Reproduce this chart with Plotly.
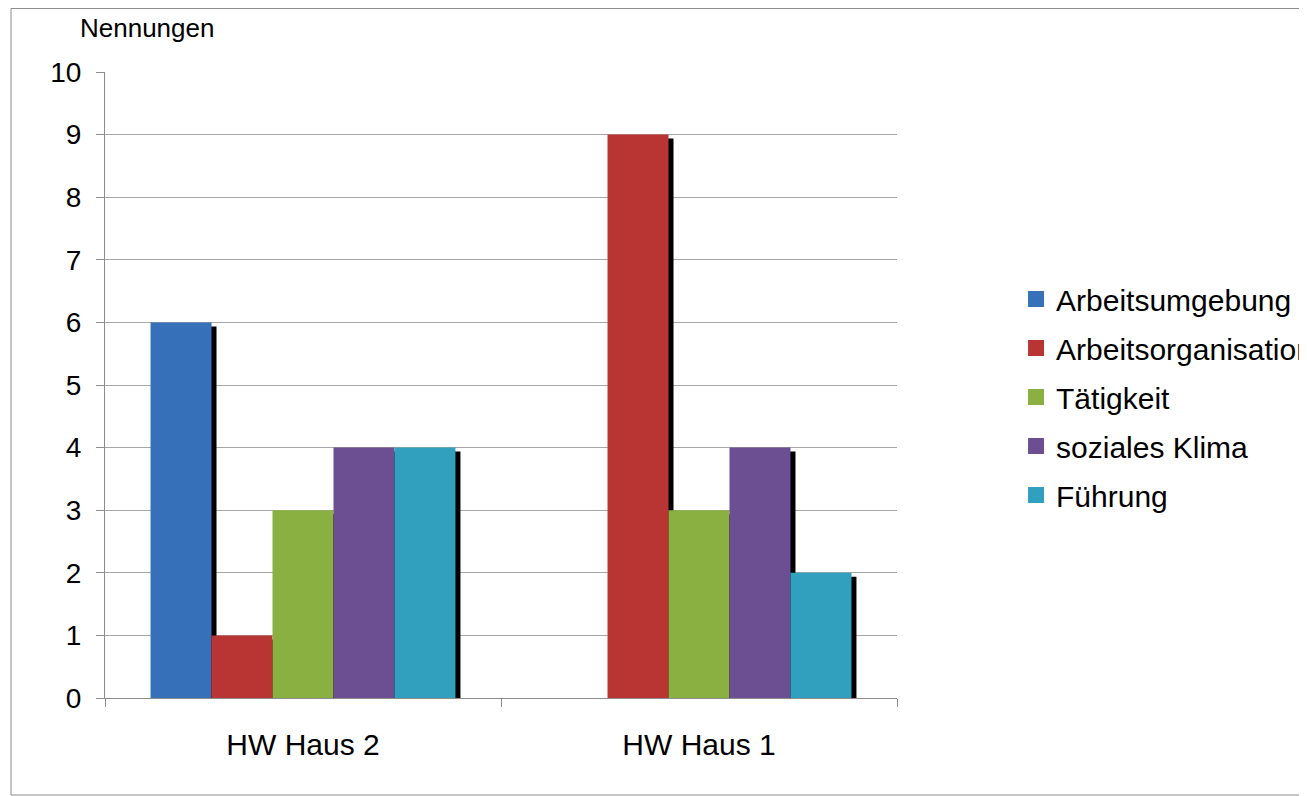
import plotly.graph_objects as go

categories = ["HW Haus 2", "HW Haus 1"]
series_names = ["Arbeitsumgebung", "Arbeitsorganisation", "Tätigkeit", "soziales Klima", "Führung"]
arbeitsumgebung = [6, 0]
arbeitsorganisation = [1, 9]
taetigkeit = [3, 3]
soziales_klima = [4, 4]
fuehrung = [4, 2]
y_ticks = list(range(0, 11))

series_values = [arbeitsumgebung, arbeitsorganisation, taetigkeit, soziales_klima, fuehrung]
colors = ["#3670B8", "#B83533", "#8BB042", "#6C4E93", "#31A0BF"]

FONT = "Liberation Sans, Arial, sans-serif"
# page body has an 8px margin; figure is sized/positioned to compensate
W, H = 1299, 788
L, R, T, B = 97, 410, 64, 98
plot_w = W - L - R
plot_h = H - T - B

bar_w = 0.154
n = len(series_names)
start = -bar_w * n / 2
dx = 5 / (plot_w / len(categories))   # shadow offset in category units
dy = 4 / (plot_h / 10)                # shadow offset in value units

fig = go.Figure()

# shadows
for i, vals in enumerate(series_values):
    fig.add_trace(go.Bar(
        x=categories, y=vals, base=[-dy] * len(vals),
        width=bar_w, offset=start + i * bar_w + dx,
        marker=dict(color="black", line=dict(width=0)),
        showlegend=False, hoverinfo="skip",
    ))

# main bars
for i, (name, vals) in enumerate(zip(series_names, series_values)):
    fig.add_trace(go.Bar(
        x=categories, y=vals, name=name,
        width=bar_w, offset=start + i * bar_w,
        marker=dict(color=colors[i], line=dict(width=0)),
        showlegend=False,
    ))

# legend entries
for i, name in enumerate(series_names):
    fig.add_trace(go.Scatter(
        x=[None], y=[None], mode="markers", name=name, legendgroup=name,
        marker=dict(symbol="square", size=16, color=colors[i]),
    ))

fig.update_layout(
    width=W, height=H,
    margin=dict(l=L, r=R, t=T, b=B, autoexpand=False),
    barmode="overlay",
    plot_bgcolor="white", paper_bgcolor="white",
    font=dict(family=FONT, color="black"),
    legend=dict(
        x=1.1503, xanchor="left", y=0.4808, yanchor="middle",
        font=dict(size=30, family=FONT), tracegroupgap=7,
        bgcolor="rgba(0,0,0,0)",
    ),
    xaxis=dict(
        type="category", range=[-0.5, 1.5],
        showline=True, linecolor="#8c8c8c", linewidth=1,
        ticks="outside", tickson="boundaries", ticklen=8, tickcolor="#8c8c8c",
        tickfont=dict(size=30, family=FONT), ticklabelstandoff=20,
        showgrid=False, zeroline=False,
    ),
    yaxis=dict(
        range=[0, 10], tickvals=y_ticks,
        showline=True, linecolor="#8c8c8c", linewidth=1,
        ticks="outside", ticklen=8, tickcolor="#8c8c8c",
        tickfont=dict(size=28, family=FONT), ticklabelstandoff=9,
        showgrid=True, gridcolor="#a6a6a6", gridwidth=1,
        zeroline=False,
    ),
    annotations=[dict(
        text="Nennungen", xref="paper", yref="paper",
        x=(139 - L) / plot_w, y=(H - B - 20) / plot_h,
        xanchor="center", yanchor="middle",
        showarrow=False, font=dict(size=26, family=FONT),
    )],
    shapes=[dict(
        type="rect", xref="paper", yref="paper",
        x0=(3 - L) / plot_w, x1=(1320 - L) / plot_w,
        y0=(H - B - 787) / plot_h, y1=(H - B - 0.5) / plot_h,
        line=dict(color="#8c8c8c", width=1), fillcolor="rgba(0,0,0,0)",
        layer="below",
    )],
)

fig.write_html("out.html")
